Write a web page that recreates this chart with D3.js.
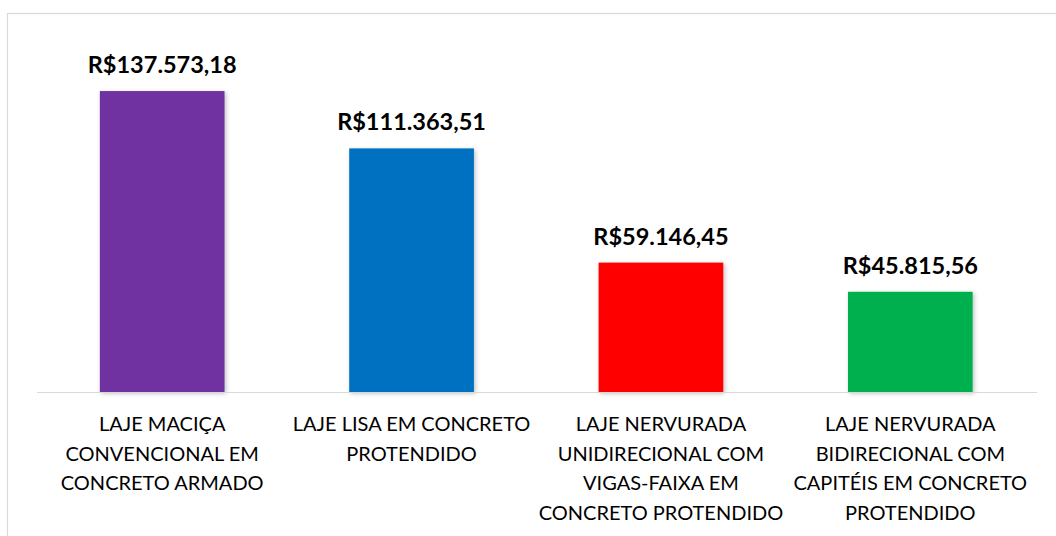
<!DOCTYPE html>
<html>
<head>
<meta charset="utf-8">
<script src="https://cdn.jsdelivr.net/npm/d3@7"></script>
<style>
  html, body { margin: 0; padding: 0; background: #ffffff; }
  svg { display: block; }
</style>
</head>
<body>
<svg id="chart" width="1056" height="536"></svg>
<script>
// Custo total por sistema de laje
const categories = [
  ["LAJE MACIÇA", "CONVENCIONAL EM", "CONCRETO ARMADO"],
  ["LAJE LISA EM CONCRETO", "PROTENDIDO"],
  ["LAJE NERVURADA", "UNIDIRECIONAL COM", "VIGAS-FAIXA EM", "CONCRETO PROTENDIDO"],
  ["LAJE NERVURADA", "BIDIRECIONAL COM", "CAPITÉIS EM CONCRETO", "PROTENDIDO"]
];
const values = [137573.18, 111363.51, 59146.45, 45815.56];
const colors = ["#7030A0", "#0070C0", "#FF0000", "#00B050"];
const valueLabels = ["R$137.573,18", "R$111.363,51", "R$59.146,45", "R$45.815,56"];

const svg = d3.select("#chart");
const W = 1056, H = 536;

// frame of the chart area
svg.append("rect")
  .attr("x", 7.5).attr("y", 13.5)
  .attr("width", W).attr("height", H)
  .attr("fill", "#ffffff")
  .attr("stroke", "#d9d9d9")
  .attr("stroke-width", 1.2);

const defs = svg.append("defs");
const f = defs.append("filter").attr("id", "shadow")
  .attr("x", "-10%").attr("y", "-10%").attr("width", "130%").attr("height", "130%");
f.append("feDropShadow")
  .attr("dx", 1.5).attr("dy", 1.5).attr("stdDeviation", 2)
  .attr("flood-color", "#000").attr("flood-opacity", 0.25);

const idx = d3.range(values.length);
const x = d3.scaleBand()
  .domain(idx)
  .range([37.5, 1035])
  .paddingInner(0.5)
  .paddingOuter(0.25);

const y = d3.scaleLinear()
  .domain([0, 160000])
  .range([392, 42]);

// bars
svg.append("g").selectAll("rect")
  .data(idx)
  .join("rect")
  .attr("x", i => x(i))
  .attr("y", i => y(values[i]))
  .attr("width", x.bandwidth())
  .attr("height", i => y(0) - y(values[i]))
  .attr("fill", i => colors[i])
  .attr("filter", "url(#shadow)");

// category axis line
svg.append("line")
  .attr("x1", 37).attr("x2", 1037)
  .attr("y1", y(0) + 0.5).attr("y2", y(0) + 0.5)
  .attr("stroke", "#d9d9d9")
  .attr("stroke-width", 1.2);

// value labels
svg.append("g").selectAll("text")
  .data(idx)
  .join("text")
  .attr("x", i => x(i) + x.bandwidth() / 2)
  .attr("y", i => y(values[i]) - 18)
  .attr("text-anchor", "middle")
  .attr("font-family", "Lato, sans-serif")
  .attr("font-weight", "bold")
  .attr("font-size", 23.5)
  .attr("fill", "#000")
  .text(i => valueLabels[i]);

// category labels
const cat = svg.append("g").selectAll("text")
  .data(idx)
  .join("text")
  .attr("text-anchor", "middle")
  .attr("font-family", "Lato, sans-serif")
  .attr("font-size", 20)
  .attr("fill", "#000");

cat.selectAll("tspan")
  .data(i => categories[i].map((line, k) => ({ i, line, k })))
  .join("tspan")
  .attr("x", d => x(d.i) + x.bandwidth() / 2)
  .attr("y", d => 431 + d.k * 29.5)
  .text(d => d.line);
</script>
</body>
</html>
